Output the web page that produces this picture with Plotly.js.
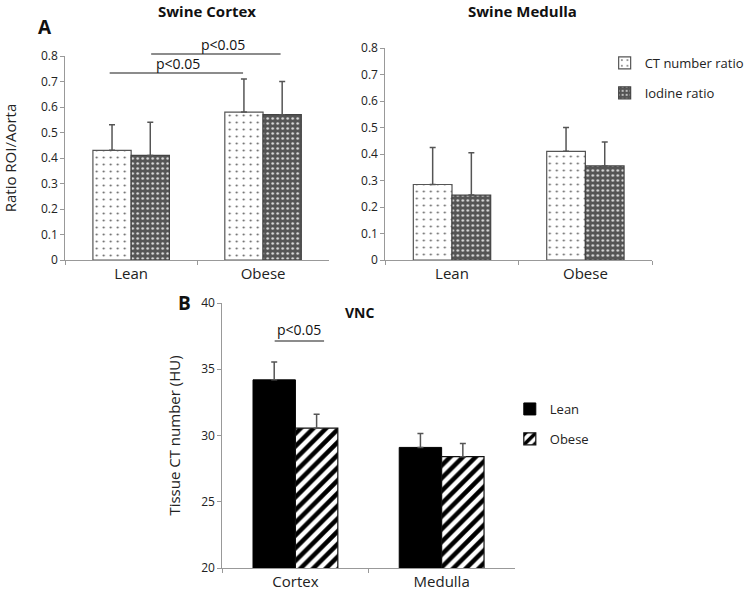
<!DOCTYPE html>
<html><head><meta charset="utf-8">
<script src="https://cdn.plot.ly/plotly-3.0.1.min.js"></script>
<style>html,body{margin:0;padding:0;background:#fff}</style>
</head><body><div id="chart" style="width:750px;height:593px"></div>
<script>
// ---- data ----
const groupsA = ["Lean", "Obese"];
const cortexCT = [0.43, 0.58];
const cortexCTErr = [0.10, 0.13];
const cortexIodine = [0.41, 0.57];
const cortexIodineErr = [0.13, 0.13];
const medullaCT = [0.285, 0.41];
const medullaCTErr = [0.14, 0.09];
const medullaIodine = [0.245, 0.355];
const medullaIodineErr = [0.16, 0.09];
const regionsB = ["Cortex", "Medulla"];
const vncLean = [34.2, 29.1];
const vncLeanErr = [1.35, 1.05];
const vncObese = [30.55, 28.4];
const vncObeseErr = [1.05, 1.0];
const ticksA = [0, 0.1, 0.2, 0.3, 0.4, 0.5, 0.6, 0.7, 0.8];
const ticksB = [20, 25, 30, 35, 40];

const FONT = "Open Sans, sans-serif";
const zeros = a => a.map(() => 0);
const errStyle = (arr) => ({type: "data", symmetric: false, array: arr, arrayminus: zeros(arr),
  color: "#555", thickness: 1.5, width: 3});
const ctMarker = {color: "#fff", line: {color: "#555", width: 1.2},
  pattern: {shape: ".", fgcolor: "#666", bgcolor: "#fff", size: 7, solidity: 0.07, fillmode: "overlay", fgopacity: 1}};
const ioMarker = {color: "#555", line: {color: "#444", width: 1.2},
  pattern: {shape: ".", fgcolor: "#e0e0e0", bgcolor: "#555", size: 5, solidity: 0.2, fillmode: "overlay", fgopacity: 1}};
const leanMarker = {color: "#000", line: {color: "#000", width: 1}};
const obeseMarker = {color: "#fff", line: {color: "#111", width: 1.2},
  pattern: {shape: "/", fgcolor: "#000", bgcolor: "#fff", size: 9, solidity: 0.5, fillmode: "overlay", fgopacity: 1}};

const traces = [
  {type: "bar", x: groupsA, y: cortexCT, name: "CT number ratio", marker: ctMarker, error_y: errStyle(cortexCTErr),
   xaxis: "x", yaxis: "y", legend: "legend", legendgroup: "a1"},
  {type: "bar", x: groupsA, y: cortexIodine, name: "Iodine ratio", marker: ioMarker, error_y: errStyle(cortexIodineErr),
   xaxis: "x", yaxis: "y", legend: "legend", legendgroup: "a2"},
  {type: "bar", x: groupsA, y: medullaCT, name: "CT number ratio", marker: ctMarker, error_y: errStyle(medullaCTErr),
   xaxis: "x2", yaxis: "y2", showlegend: false},
  {type: "bar", x: groupsA, y: medullaIodine, name: "Iodine ratio", marker: ioMarker, error_y: errStyle(medullaIodineErr),
   xaxis: "x2", yaxis: "y2", showlegend: false},
  {type: "bar", x: regionsB, y: vncLean, name: "Lean", marker: leanMarker, error_y: errStyle(vncLeanErr),
   xaxis: "x3", yaxis: "y3", legend: "legend2", legendgroup: "b1"},
  {type: "bar", x: regionsB, y: vncObese, name: "Obese", marker: obeseMarker, error_y: errStyle(vncObeseErr),
   xaxis: "x3", yaxis: "y3", legend: "legend2", legendgroup: "b2"}
];

const W = 750, H = 593;
const px = v => v / W, py = v => 1 - v / H;
const xax = (d, anchor) => ({domain: d, anchor: anchor, type: "category", range: [-0.5, 1.5], showgrid: false, zeroline: false,
  showline: true, linecolor: "#999", linewidth: 1, ticks: "outside", tickson: "boundaries", tickcolor: "#999",
  ticklen: 4, tickfont: {family: FONT, size: 15, color: "#222"}, fixedrange: true});
const yax = (d, anchor, range, tv, fmt) => ({domain: d, anchor: anchor, range: range, tickvals: tv,
  ticktext: tv.map(fmt), showgrid: false, zeroline: false, showline: true, linecolor: "#999", linewidth: 1,
  ticks: "outside", tickcolor: "#999", ticklen: 4, tickfont: {family: FONT, size: 12, color: "#222"},
  fixedrange: true, automargin: false});
const ann = (text, x, y, size, extra) => Object.assign({text: text, xref: "paper", yref: "paper", x: px(x), y: py(y),
  xanchor: "center", yanchor: "middle", showarrow: false, font: {family: FONT, size: size, color: "#111"}}, extra || {});
const fmtA = v => v === 0 ? "0" : v.toFixed(1);

const layout = {
  width: W, height: H, margin: {l: 0, r: 0, t: 0, b: 0}, paper_bgcolor: "#fff", plot_bgcolor: "rgba(0,0,0,0)",
  barmode: "group", bargap: 0.42, bargroupgap: 0,
  font: {family: FONT, color: "#222"},
  xaxis: xax([px(66), px(333)], "y"),
  yaxis: Object.assign(yax([py(260), py(56)], "x", [0, 0.8], ticksA, fmtA),
    {title: {text: "Ratio ROI/Aorta", font: {family: FONT, size: 15, color: "#222"}, standoff: 20}}),
  xaxis2: xax([px(390), px(660)], "y2"),
  yaxis2: yax([py(260), py(48)], "x2", [0, 0.8], ticksA, fmtA),
  xaxis3: xax([px(225), px(521)], "y3"),
  yaxis3: Object.assign(yax([py(568), py(303)], "x3", [20, 40], ticksB, v => String(v)),
    {title: {text: "Tissue CT number (HU)", font: {family: FONT, size: 15, color: "#222"}, standoff: 16}}),
  legend: {x: px(612), y: py(78), xanchor: "left", yanchor: "middle", bgcolor: "rgba(0,0,0,0)",
    font: {family: FONT, size: 13, color: "#222"}, tracegroupgap: 10, itemwidth: 30},
  legend2: {x: px(516), y: py(424), xanchor: "left", yanchor: "middle", bgcolor: "rgba(0,0,0,0)",
    font: {family: FONT, size: 13, color: "#222"}, tracegroupgap: 10, itemwidth: 30},
  shapes: [
    {type: "line", xref: "paper", yref: "paper", x0: px(111), x1: px(246), y0: py(73), y1: py(73), line: {color: "#666", width: 1.5}},
    {type: "line", xref: "paper", yref: "paper", x0: px(153), x1: px(284), y0: py(54), y1: py(54), line: {color: "#666", width: 1.5}},
    {type: "line", xref: "paper", yref: "paper", x0: px(278), x1: px(328), y0: py(341), y1: py(341), line: {color: "#666", width: 1.5}}
  ],
  annotations: [
    ann("<b>A</b>", 46, 27, 19),
    ann("<b>B</b>", 187, 303, 19),
    ann("<b>Swine Cortex</b>", 210, 11, 15),
    ann("<b>Swine Medulla</b>", 529, 11, 15),
    ann("<b>VNC</b>", 364, 312, 14),
    ann("p&lt;0.05", 180, 63, 14),
    ann("p&lt;0.05", 226, 44, 14),
    ann("p&lt;0.05", 303, 329, 14)
  ]
};
Plotly.newPlot("chart", traces, layout, {displayModeBar: false, staticPlot: true});
</script></body></html>
